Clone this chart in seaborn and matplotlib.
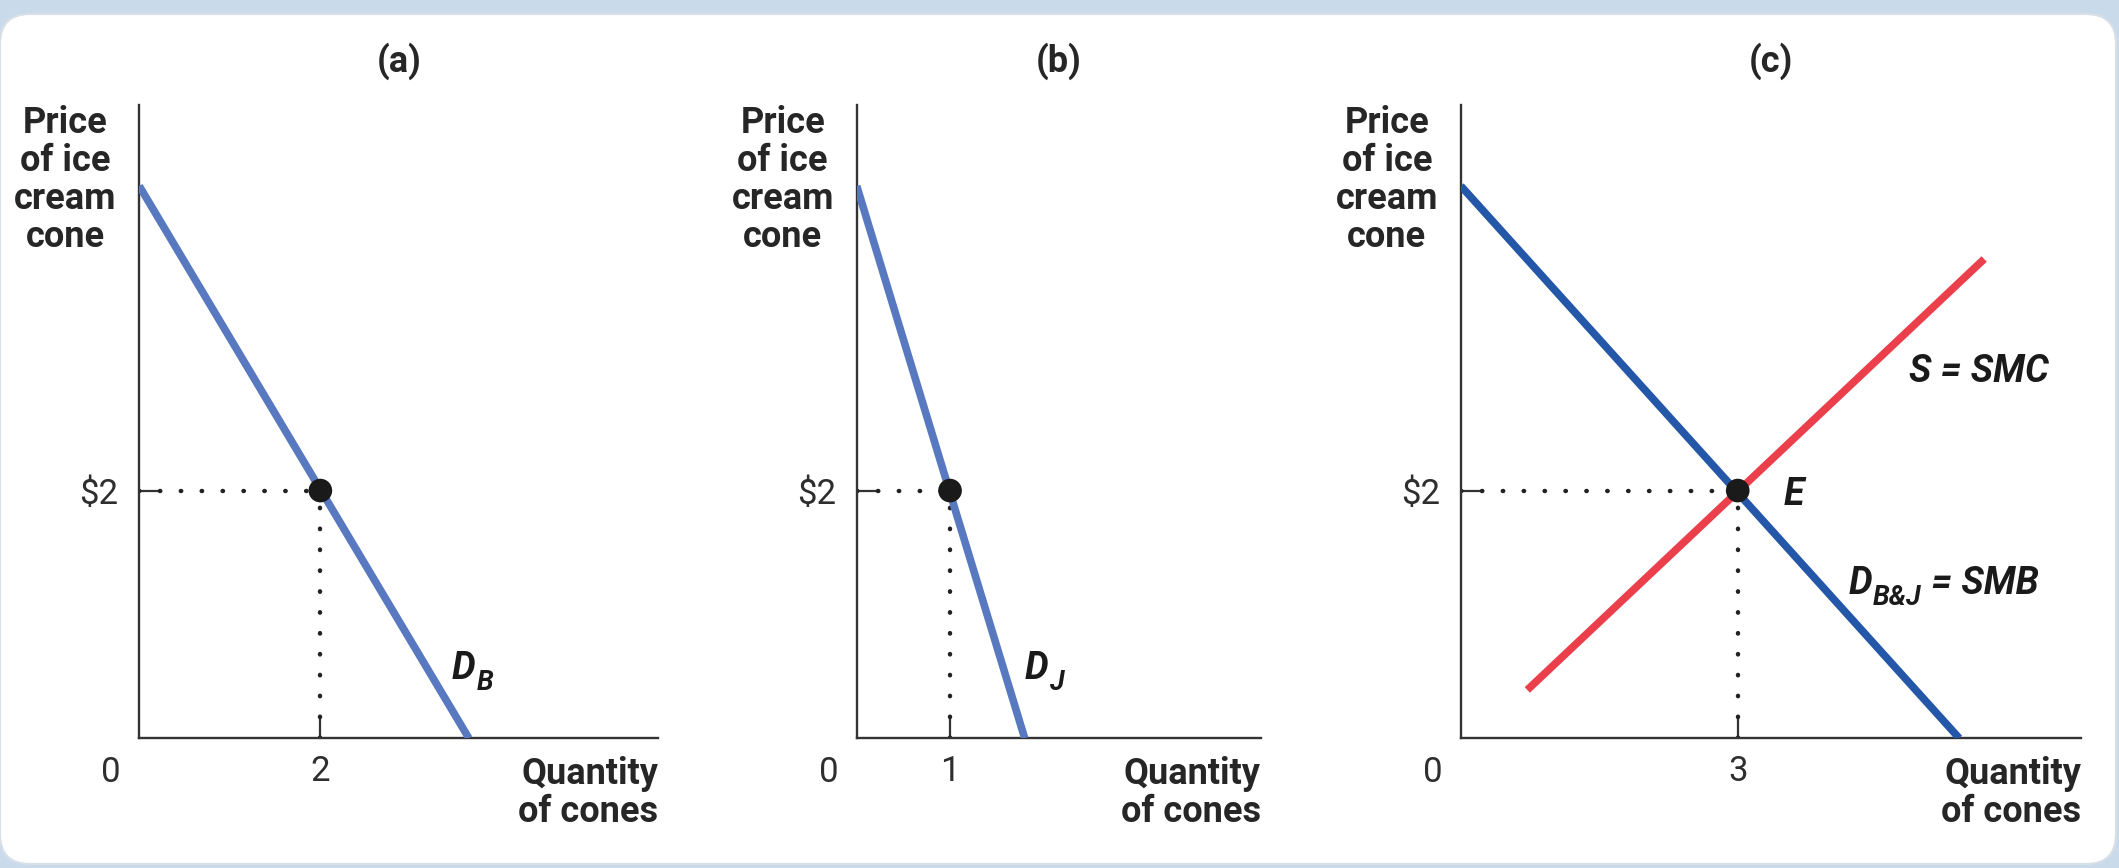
import matplotlib
matplotlib.use("Agg")
import matplotlib.pyplot as plt
from matplotlib.patches import FancyBboxPatch
import seaborn as sns

# ── Data ────────────────────────────────────────────────────
panel_titles = ["(a)", "(b)", "(c)"]
x_max        = [5.73, 4.33, 6.72]
y_max        = 5.11

# demand curves (quantity, price)
dem_a_q = [0, 3.64]
dem_a_p = [4.46, 0]
dem_b_q = [0, 1.80]
dem_b_p = [4.46, 0]
dem_c_q = [0, 5.40]
dem_c_p = [4.46, 0]
# supply curve (panel c)
sup_c_q = [0.72, 5.67]
sup_c_p = [0.39, 3.87]

eq_price    = 2
eq_quantity = [2, 1, 3]
x_tick_lbl  = ["2", "1", "3"]
y_tick_lbl  = "$2"

# ── Style ───────────────────────────────────────────────────
sns.set_theme(style="white")
plt.rcParams["font.family"] = ["Roboto", "DejaVu Sans"]

LIGHT_BLUE = "#5878bf"
DARK_BLUE  = "#2457a8"
RED        = "#eb404b"
AXIS_COL   = "#333333"
FS  = 26     # axis labels / titles
TFS = 25     # tick labels
LFS = 27     # curve labels

fig = plt.figure(figsize=(21.19, 8.68), dpi=100, facecolor="#c9dbea")
bg = FancyBboxPatch((0.0, 0.04), 21.16, 8.50,
                    boxstyle="round,pad=0,rounding_size=0.3",
                    transform=fig.dpi_scale_trans,
                    facecolor="white", edgecolor="#d9dfe6", lw=1.5, zorder=-10)
fig.patches.append(bg)

bottom, top = 0.1495, 0.8785
lefts  = [0.0657, 0.4043, 0.6894]
rights = [0.3106, 0.5950, 0.9821]

axes = []
for i in range(3):
    ax = fig.add_axes([lefts[i], bottom, rights[i] - lefts[i], top - bottom])
    ax.patch.set_alpha(0)
    ax.set_xlim(0, x_max[i])
    ax.set_ylim(0, y_max)
    for s in ["top", "right"]:
        ax.spines[s].set_visible(False)
    for s in ["left", "bottom"]:
        ax.spines[s].set_color(AXIS_COL)
        ax.spines[s].set_linewidth(1.7)
    ax.set_xticks([eq_quantity[i]])
    ax.set_xticklabels([x_tick_lbl[i]])
    ax.set_yticks([eq_price])
    ax.set_yticklabels([y_tick_lbl])
    ax.tick_params(axis="both", direction="in", length=14, width=1.6,
                   color=AXIS_COL, labelsize=TFS, labelcolor="#2e2e2e",
                   bottom=True, left=True)
    ax.tick_params(axis="x", pad=12)
    ax.tick_params(axis="y", pad=15)

    # dotted guide lines
    ax.plot([0, eq_quantity[i]], [eq_price, eq_price], color="#222222",
            lw=3.2, linestyle=(0, (0.1, 4.6)), dash_capstyle="round", zorder=2)
    ax.plot([eq_quantity[i], eq_quantity[i]], [0, eq_price], color="#222222",
            lw=3.2, linestyle=(0, (0.1, 4.6)), dash_capstyle="round", zorder=2)

    # labels
    ax.annotate(panel_titles[i], xy=(0.5, 1), xycoords="axes fraction",
                xytext=(0, 44), textcoords="offset pixels",
                ha="center", va="center", fontsize=FS, fontweight="bold")
    ax.annotate("Price\nof ice\ncream\ncone", xy=(0, 1), xycoords="axes fraction",
                xytext=(-74, 0), textcoords="offset pixels",
                ha="center", va="top", fontsize=FS, fontweight="bold",
                linespacing=1.07, multialignment="center")
    ax.annotate("Quantity\nof cones", xy=(1, 0), xycoords="axes fraction",
                xytext=(0, -18), textcoords="offset pixels",
                ha="right", va="top", fontsize=FS, fontweight="bold",
                linespacing=1.05, multialignment="right")
    ax.annotate("0", xy=(0, 0), xycoords="axes fraction",
                xytext=(-28, -34), textcoords="offset pixels",
                ha="center", va="center", fontsize=TFS, color="#2e2e2e")
    axes.append(ax)

ax_a, ax_b, ax_c = axes

sns.lineplot(x=dem_a_q, y=dem_a_p, ax=ax_a, color=LIGHT_BLUE, lw=5.5,
             solid_capstyle="butt", zorder=3)
sns.lineplot(x=dem_b_q, y=dem_b_p, ax=ax_b, color=LIGHT_BLUE, lw=5.5,
             solid_capstyle="butt", zorder=3)
sns.lineplot(x=dem_c_q, y=dem_c_p, ax=ax_c, color=DARK_BLUE, lw=5.5,
             solid_capstyle="butt", zorder=3)
sns.lineplot(x=sup_c_q, y=sup_c_p, ax=ax_c, color=RED, lw=5.5,
             solid_capstyle="butt", zorder=3)

for i, ax in enumerate(axes):
    sns.scatterplot(x=[eq_quantity[i]], y=[eq_price], ax=ax, s=290,
                    color="#1a1a1a", edgecolor="none", zorder=5, clip_on=False)

lab = dict(fontsize=LFS, fontweight="bold", fontstyle="italic", color="#1a1a1a")


def curve_label(ax, x, y, main, sub, rest=""):
    """Main letter + subscript + optional trailing text, chained by bbox."""
    t = ax.text(x, y, main, ha="left", va="center", **lab)
    s = ax.annotate(sub, xy=(1, 0.12), xycoords=t, xytext=(1, 0),
                    textcoords="offset pixels", ha="left", va="center",
                    fontsize=LFS * 0.72, fontweight="bold", fontstyle="italic",
                    color="#1a1a1a")
    if rest:
        ax.annotate(rest, xy=(1, 0.5), xycoords=(s, t), ha="left",
                    va="center", **lab)
    return t


curve_label(ax_a, 3.45, 0.56, "D", "B")
curve_label(ax_b, 1.80, 0.56, "D", "J")
ax_c.text(3.50, 1.97, "E", ha="left", va="center", **lab)
ax_c.text(6.37, 2.96, "S = SMC", ha="right", va="center", **lab)
curve_label(ax_c, 4.20, 1.25, "D", "B&J", " = SMB")

plt.savefig("out.png", dpi=100, facecolor=fig.get_facecolor())
plt.close()
